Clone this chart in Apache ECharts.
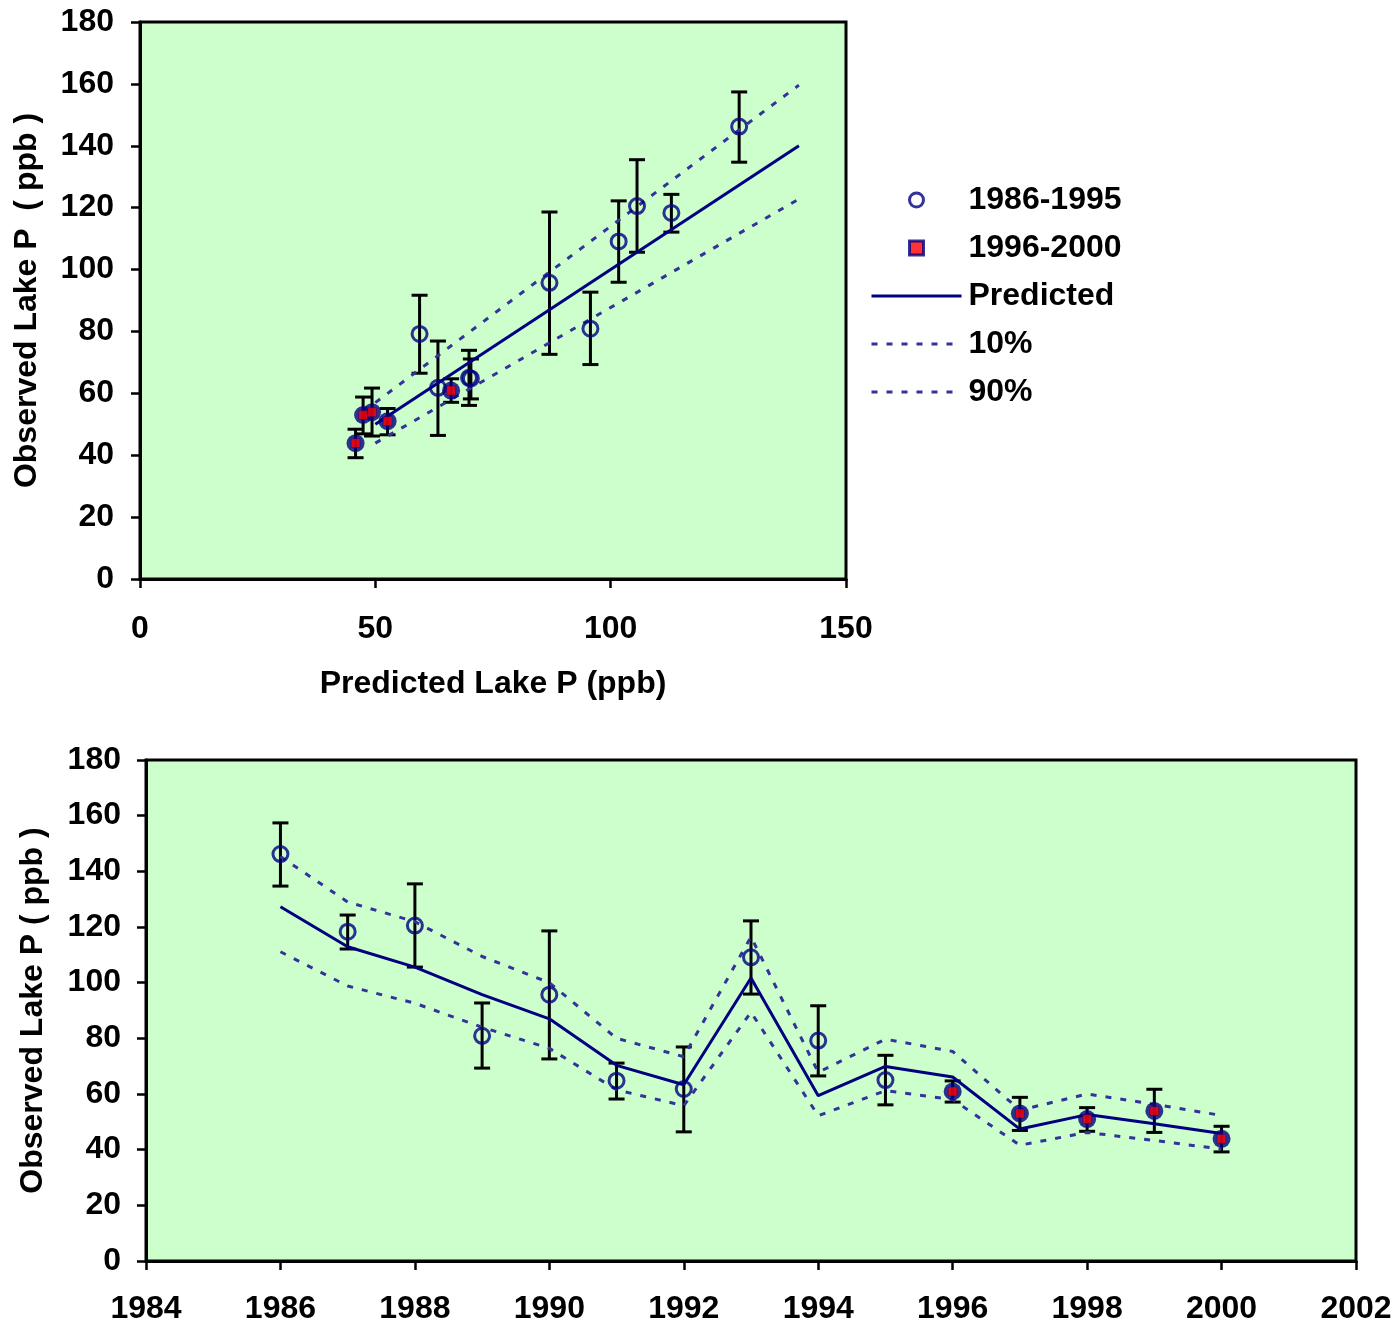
<!DOCTYPE html>
<html><head><meta charset="utf-8">
<script src="https://cdn.jsdelivr.net/npm/echarts@6/dist/echarts.min.js"></script>
<style>html,body{margin:0;padding:0;background:#fff}#c{width:1397px;height:1325px}</style>
</head><body><div id="c"></div>
<script>
// ---- data ----
const years     = [1986, 1987, 1988, 1989, 1990, 1991, 1992, 1993, 1994, 1995, 1996, 1997, 1998, 1999, 2000];
const observed  = [146.2, 118.3, 120.5, 80.9, 95.7, 64.8, 61.8, 109.1, 79.2, 65.0, 60.9, 53.0, 51.0, 53.9, 43.9];
const obsHigh   = [157.4, 124.3, 135.5, 92.7, 118.6, 71.1, 76.9, 122.2, 91.7, 73.9, 64.7, 58.8, 55.1, 61.7, 48.4];
const obsLow    = [134.7, 112.1, 105.6, 69.3, 72.6, 58.2, 46.4, 95.9, 66.5, 56.1, 57.1, 46.9, 46.6, 46.2, 39.2];
const predicted = [127.3, 112.9, 105.6, 95.7, 87.0, 70.3, 63.3, 101.7, 59.4, 69.9, 66.1, 47.4, 52.6, 49.3, 45.8];
const band10    = [111.1, 98.8, 92.6, 84.0, 76.4, 61.5, 55.8, 89.4, 52.2, 61.2, 58.0, 41.6, 46.2, 43.3, 40.2];
const band90    = [145.3, 129.0, 121.9, 109.4, 100.0, 80.0, 73.4, 116.5, 67.8, 79.7, 75.3, 54.2, 60.0, 56.3, 52.3];
const period    = ['1986-1995','1986-1995','1986-1995','1986-1995','1986-1995','1986-1995','1986-1995','1986-1995','1986-1995','1986-1995',
                   '1996-2000','1996-2000','1996-2000','1996-2000','1996-2000'];
// reference lines in the predicted-vs-observed panel
const refX    = [50, 140];
const refPred = [50, 140];
const ref10   = [43.9, 122.8];
const ref90   = [57.0, 159.6];
const xTopTitle = 'Predicted Lake P (ppb)';
const yTopTitle = 'Observed Lake P  ( ppb )';
const yBotTitle = 'Observed Lake P ( ppb )';

// ---- styling ----
const FONT = "'Liberation Sans', Arial, sans-serif";
const NAVY = '#000080';
const DASH = '#333399';
const txt = {color:'#000', fontSize:32, fontWeight:'bold', fontFamily:FONT};

function errorBarItem(params, api) {
  const x = api.value(0), lo = api.value(1), hi = api.value(2);
  const pLo = api.coord([x, lo]), pHi = api.coord([x, hi]);
  const h = 8;
  const st = () => ({stroke:'#000', lineWidth:3, fill:null});
  return {type:'group', children:[
    {type:'line', shape:{x1:pLo[0], y1:pLo[1], x2:pHi[0], y2:pHi[1]}, style:st()},
    {type:'line', shape:{x1:pHi[0]-h, y1:pHi[1], x2:pHi[0]+h, y2:pHi[1]}, style:st()},
    {type:'line', shape:{x1:pLo[0]-h, y1:pLo[1], x2:pLo[0]+h, y2:pLo[1]}, style:st()}
  ]};
}

function axisBase(extra) {
  return Object.assign({
    type:'value',
    axisLine:{show:true, onZero:false, lineStyle:{color:'#000', width:3}},
    axisTick:{show:true, inside:false, length:9, lineStyle:{color:'#000', width:2.5}},
    splitLine:{show:false},
    axisLabel:Object.assign({}, txt),
    nameTextStyle:Object.assign({}, txt),
    nameLocation:'middle'
  }, extra);
}

const idx = years.map((_, i) => i);
const early = idx.filter(i => period[i] === '1986-1995');
const late  = idx.filter(i => period[i] === '1996-2000');

function panelSeries(ax, xs, lines) {
  const s = [];
  s.push({type:'custom', xAxisIndex:ax, yAxisIndex:ax, renderItem:errorBarItem, z:2,
          encode:{x:0, y:[1,2]}, silent:true,
          data: idx.map(i => [xs[i], obsLow[i], obsHigh[i]])});
  s.push({type:'line', name:'Predicted', xAxisIndex:ax, yAxisIndex:ax, symbol:'none', z:3, silent:true,
          lineStyle:{color:NAVY, width:3}, itemStyle:{color:NAVY}, data: lines.pred});
  s.push({type:'line', name:'10%', xAxisIndex:ax, yAxisIndex:ax, symbol:'none', z:3, silent:true,
          lineStyle:{color:DASH, width:3, type:[6,9]}, itemStyle:{color:DASH}, data: lines.p10});
  s.push({type:'line', name:'90%', xAxisIndex:ax, yAxisIndex:ax, symbol:'none', z:3, silent:true,
          lineStyle:{color:DASH, width:3, type:[6,9]}, itemStyle:{color:DASH}, data: lines.p90});
  s.push({type:'scatter', name:'1986-1995', xAxisIndex:ax, yAxisIndex:ax, symbol:'circle', symbolSize:15, z:4,
          itemStyle:{color:'rgba(0,0,0,0)', borderColor:NAVY, borderWidth:3},
          data: early.map(i => [xs[i], observed[i]])});
  s.push({type:'scatter', name:'late-bg', xAxisIndex:ax, yAxisIndex:ax, symbol:'circle', symbolSize:18, z:4,
          itemStyle:{color:NAVY},
          data: late.map(i => [xs[i], observed[i]])});
  s.push({type:'scatter', name:'1996-2000', xAxisIndex:ax, yAxisIndex:ax, symbol:'rect', symbolSize:9, z:5,
          itemStyle:{color:'#FF0000', borderColor:NAVY, borderWidth:0.5},
          data: late.map(i => [xs[i], observed[i]])});
  return s;
}

const series = [].concat(
  panelSeries(0, predicted, {
    pred: refX.map((x, i) => [x, refPred[i]]),
    p10:  refX.map((x, i) => [x, ref10[i]]),
    p90:  refX.map((x, i) => [x, ref90[i]])
  }),
  panelSeries(1, years, {
    pred: idx.map(i => [years[i], predicted[i]]),
    p10:  idx.map(i => [years[i], band10[i]]),
    p90:  idx.map(i => [years[i], band90[i]])
  })
);

const hiddenDot = {opacity:0};
const option = {
  animation:false,
  backgroundColor:'#fff',
  grid:[
    {left:140, top:22, width:706, height:557, show:true, backgroundColor:'#CCFFCC', borderColor:'#000', borderWidth:3},
    {left:146, top:760, width:1210, height:501, show:true, backgroundColor:'#CCFFCC', borderColor:'#000', borderWidth:3}
  ],
  xAxis:[
    axisBase({gridIndex:0, min:0, max:150, interval:50, name:xTopTitle, nameGap:89,
      axisLabel:Object.assign({}, txt, {margin:34})}),
    axisBase({gridIndex:1, min:1984, max:2002, interval:2,
      axisLabel:Object.assign({}, txt, {margin:32, formatter: v => String(v)})})
  ],
  yAxis:[
    axisBase({gridIndex:0, min:0, max:180, interval:20, name:yTopTitle, nameGap:97,
      axisLabel:Object.assign({}, txt, {margin:26})}),
    axisBase({gridIndex:1, min:0, max:180, interval:20, name:yBotTitle, nameGap:97,
      axisLabel:Object.assign({}, txt, {margin:25})})
  ],
  legend:{
    show:true, orient:'vertical', left:870, top:184, padding:0,
    itemWidth:90, itemHeight:14, itemGap:16, symbolKeepAspect:true,
    textStyle:Object.assign({}, txt, {padding:[0,0,0,2]}),
    selectedMode:false,
    data:[
      {name:'1986-1995', icon:'circle', itemStyle:{color:'rgba(0,0,0,0)', borderColor:NAVY, borderWidth:3}},
      {name:'1996-2000', icon:'path://M0,0h10v10h-10z', itemStyle:{color:'#FF0000', borderColor:NAVY, borderWidth:3}},
      {name:'Predicted', itemStyle:hiddenDot, lineStyle:{width:3}},
      {name:'10%', itemStyle:hiddenDot, lineStyle:{width:3}},
      {name:'90%', itemStyle:hiddenDot, lineStyle:{width:3}}
    ]
  },
  series: series
};

const chart = echarts.init(document.getElementById('c'), null, {renderer:'canvas'});
chart.setOption(option);
</script>
</body></html>
